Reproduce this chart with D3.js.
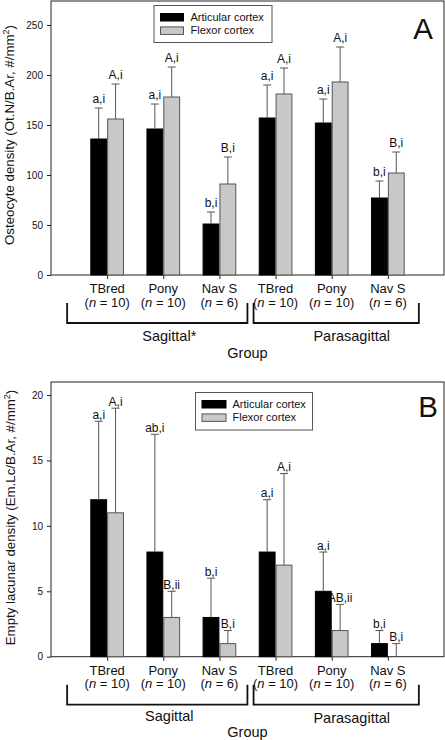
<!DOCTYPE html>
<html>
<head>
<meta charset="utf-8">
<script src="https://cdn.jsdelivr.net/npm/d3@7/dist/d3.min.js"></script>
<style>
  html, body { margin: 0; padding: 0; background: #fff; }
  svg { display: block; }
  text { font-family: "Liberation Sans", Arial, sans-serif; fill: #111; }
</style>
</head>
<body>
<div id="chart"></div>
<script>
// ---------- data ----------
const groups = ["TBred", "Pony", "Nav S", "TBred", "Pony", "Nav S"];
const groupN = ["10", "10", "6", "10", "10", "6"];
const seriesNames = ["Articular cortex", "Flexor cortex"];
const planesA = ["Sagittal*", "Parasagittal"];
const planesB = ["Sagittal", "Parasagittal"];

// Panel A: osteocyte density (mean, SD)
const aArticular   = [136, 146, 51, 157, 152, 77];
const aArticularSD = [31, 25, 12, 33, 24, 17];
const aFlexor      = [156, 178, 91, 181, 193, 102];
const aFlexorSD    = [35, 30, 27, 26, 35, 21];
const aArticularLab = ["a,i", "a,i", "b,i", "a,i", "a,i", "b,i"];
const aFlexorLab    = ["A,i", "A,i", "B,i", "A,i", "A,i", "B,i"];
const aTicks = [0, 50, 100, 150, 200, 250];

// Panel B: empty lacunar density (mean, SD)
const bArticular   = [12, 8, 3, 8, 5, 1];
const bArticularSD = [6, 9, 3, 4, 3, 1];
const bFlexor      = [11, 3, 1, 7, 2, 0];
const bFlexorSD    = [8, 2, 1, 7, 2, 1];
const bArticularLab = ["a,i", "ab,i", "b,i", "a,i", "a,i", "b,i"];
const bFlexorLab    = ["A,i", "B,ii", "B,i", "A,i", "AB,ii", "B,i"];
const bTicks = [0, 5, 10, 15, 20];

// ---------- drawing ----------
const W = 445, H = 740;
const svg = d3.select("#chart").append("svg").attr("width", W).attr("height", H);

const xL = 51, xR = 444;
const x = d3.scaleLinear().domain([-1, groups.length]).range([xL, xR]);
const step = x(1) - x(0);
const bw = step * 0.3;
const GRAY = "#c8c8c8";

function panel(o) {
  const g = svg.append("g");
  const y = d3.scaleLinear().domain([0, o.yMax]).range([o.bottom, o.top]);

  // frame
  g.append("rect").attr("x", xL).attr("y", o.top).attr("width", xR - xL).attr("height", o.bottom - o.top)
    .attr("fill", "none").attr("stroke", "#222").attr("stroke-width", 1);

  // y axis
  const ya = g.append("g").attr("transform", `translate(${xL},0)`)
    .call(d3.axisLeft(y).tickValues(o.ticks).tickSize(4).tickPadding(4));
  ya.select(".domain").remove();
  ya.selectAll("line").attr("stroke", "#222");
  ya.selectAll("text").style("font-family", "Liberation Sans, Arial, sans-serif")
    .style("font-size", "10px").attr("fill", "#222");

  // x axis ticks at group centres
  const xa = g.append("g").attr("transform", `translate(0,${o.bottom})`)
    .call(d3.axisBottom(x).tickValues(d3.range(groups.length)).tickSize(4).tickFormat(""));
  xa.select(".domain").remove();
  xa.selectAll("line").attr("stroke", "#222");

  const idx = d3.range(groups.length);
  const series = [
    { v: o.art, sd: o.artSD, lab: o.artLab, fill: "#000", stroke: "#000", off: -bw },
    { v: o.flex, sd: o.flexSD, lab: o.flexLab, fill: GRAY, stroke: "#555", off: 0 }
  ];

  series.forEach(s => {
    g.append("g").selectAll("rect").data(idx.filter(i => s.v[i] > 0)).join("rect")
      .attr("x", i => x(i) + s.off + 0.5)
      .attr("y", i => y(s.v[i]))
      .attr("width", bw - 1)
      .attr("height", i => y(0) - y(s.v[i]))
      .attr("fill", s.fill).attr("stroke", s.stroke).attr("stroke-width", 1);

    const eb = g.append("g").attr("stroke", "#555").attr("stroke-width", 1);
    eb.selectAll("line.v").data(idx).join("line").attr("class", "v")
      .attr("x1", i => x(i) + s.off + bw / 2).attr("x2", i => x(i) + s.off + bw / 2)
      .attr("y1", i => y(s.v[i])).attr("y2", i => y(s.v[i] + s.sd[i]));
    eb.selectAll("line.c").data(idx).join("line").attr("class", "c")
      .attr("x1", i => x(i) + s.off + bw / 2 - 4).attr("x2", i => x(i) + s.off + bw / 2 + 4)
      .attr("y1", i => y(s.v[i] + s.sd[i])).attr("y2", i => y(s.v[i] + s.sd[i]));

    g.append("g").selectAll("text").data(idx).join("text")
      .attr("x", i => x(i) + s.off + bw / 2)
      .attr("y", i => y(s.v[i] + s.sd[i]) - o.labGap)
      .attr("text-anchor", "middle").style("font-size", "12px")
      .text(i => s.lab[i]);
  });

  // category labels
  const cl = g.append("g");
  cl.selectAll("text.cat").data(idx).join("text").attr("class", "cat")
    .attr("x", i => x(i)).attr("y", o.bottom + 18)
    .attr("text-anchor", "middle").style("font-size", "13px").text(i => groups[i]);
  const nl = cl.selectAll("text.n").data(idx).join("text").attr("class", "n")
    .attr("x", i => x(i)).attr("y", o.bottom + 31.5)
    .attr("text-anchor", "middle").style("font-size", "13px");
  nl.append("tspan").text("(");
  nl.append("tspan").style("font-style", "italic").text("n");
  nl.append("tspan").text(i => " = " + groupN[i] + ")");

  // brackets
  const bTop = o.bottom + 28, bBot = o.bottom + 48;
  const brackets = [[x(0) - 40, x(2) + 28], [x(3) - 22, x(5) + 31]];
  g.append("g").selectAll("path").data(brackets).join("path")
    .attr("d", d => `M${d[0]},${bTop}V${bBot}H${d[1]}V${bTop}`)
    .attr("fill", "none").attr("stroke", "#111").attr("stroke-width", 1.8);

  g.append("text").attr("x", x(1) + 6).attr("y", o.bottom + o.planeDy[0])
    .attr("text-anchor", "middle").style("font-size", "14.5px").text(o.planes[0]);
  g.append("text").attr("x", x(4) + 20).attr("y", o.bottom + o.planeDy[1])
    .attr("text-anchor", "middle").style("font-size", "14.5px").text(o.planes[1]);
  g.append("text").attr("x", (xL + xR) / 2).attr("y", o.bottom + o.groupDy)
    .attr("text-anchor", "middle").style("font-size", "14.5px").text("Group");

  // y label
  const yl = g.append("text")
    .attr("transform", `translate(${o.ylX},${o.ylY}) rotate(-90)`)
    .attr("text-anchor", "middle").style("font-size", "13.3px");
  yl.append("tspan").text(o.yLabel);
  yl.append("tspan").attr("dy", -5).style("font-size", "9px").text("2");
  yl.append("tspan").attr("dy", 5).text(")");

  // legend
  const lg = g.append("g");
  lg.append("rect").attr("x", o.leg.x).attr("y", o.leg.y).attr("width", o.leg.w).attr("height", o.leg.h)
    .attr("fill", "#fff").attr("stroke", "#555").attr("stroke-width", 1);
  seriesNames.forEach((nm, k) => {
    lg.append("rect").attr("x", o.leg.x + 6.5).attr("y", o.leg.y + 8 + k * 13.4)
      .attr("width", o.leg.sw).attr("height", 7.5)
      .attr("fill", series[k].fill).attr("stroke", series[k].stroke).attr("stroke-width", 1);
    lg.append("text").attr("x", o.leg.x + o.leg.tx).attr("y", o.leg.y + 15.5 + k * 13.4)
      .style("font-size", "11px").attr("fill", "#222").text(nm);
  });

  // panel letter
  g.append("text").attr("x", o.letterX).attr("y", o.letterY).attr("text-anchor", "end")
    .style("font-size", "29.5px").text(o.letter);
}

panel({
  top: 1, bottom: 275, yMax: 274, ticks: aTicks,
  art: aArticular, artSD: aArticularSD, flex: aFlexor, flexSD: aFlexorSD,
  artLab: aArticularLab, flexLab: aFlexorLab, labGap: 5,
  planes: planesA, planeDy: [66, 66], groupDy: 83,
  yLabel: "Osteocyte density (Ot.N/B.Ar, #/mm", ylX: 14, ylY: 135,
  leg: { x: 154, y: 5.5, w: 118, h: 37, sw: 23, tx: 36.5 },
  letter: "A", letterX: 433, letterY: 39
});

panel({
  top: 382, bottom: 656.7, yMax: 21, ticks: bTicks,
  art: bArticular, artSD: bArticularSD, flex: bFlexor, flexSD: bFlexorSD,
  artLab: bArticularLab, flexLab: bFlexorLab, labGap: 2.5,
  planes: planesB, planeDy: [64, 66], groupDy: 80,
  yLabel: "Empty lacunar density (Em.Lc/B.Ar, #/mm", ylX: 15, ylY: 517.5,
  leg: { x: 195.5, y: 392.5, w: 117, h: 37.5, sw: 24, tx: 37 },
  letter: "B", letterX: 438, letterY: 416.5
});
</script>
</body>
</html>
